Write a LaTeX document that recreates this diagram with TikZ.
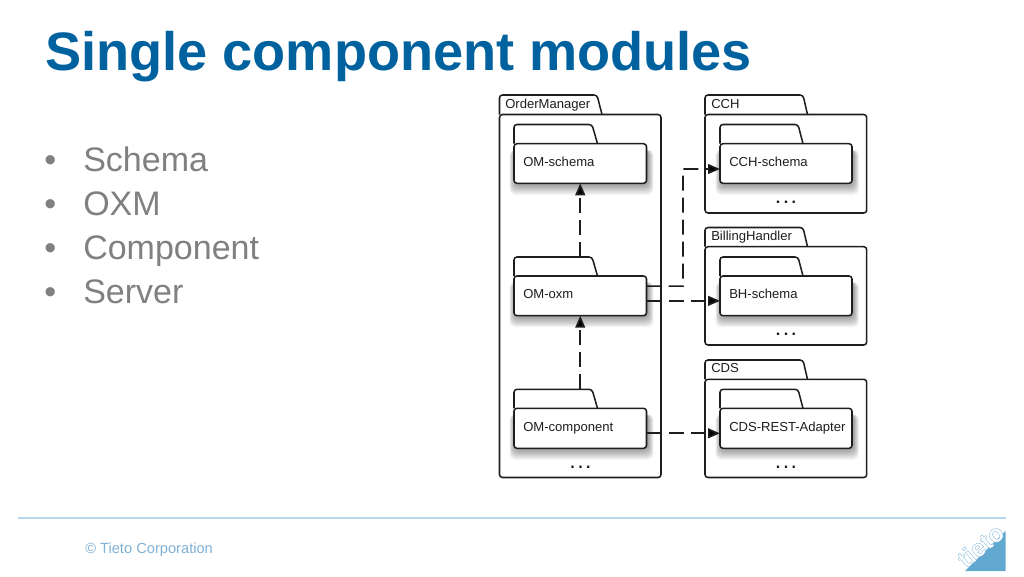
\documentclass[tikz,border=0pt]{standalone}
\usepackage{fontspec}
\setmainfont{Liberation Sans}
\usetikzlibrary{calc,arrows.meta}
\definecolor{titleblue}{HTML}{00619F}
\definecolor{bulletgray}{HTML}{808080}
\definecolor{rulecol}{HTML}{B5D8EC}
\definecolor{footcol}{HTML}{7FB2D6}
\definecolor{logoblue}{HTML}{62A9D1}
\definecolor{inkcol}{HTML}{1E1E1E}
\newcommand{\threedots}{.\kern2.6pt.\kern2.6pt.}
\tikzset{
  x=0.75pt,y=-0.75pt,
  titletext/.style={anchor=base west,inner sep=0,text=titleblue,font=\fontsize{40.6}{50}\selectfont\bfseries},
  bullettext/.style={anchor=base west,inner sep=0,text=bulletgray,font=\fontsize{25.5}{30}\selectfont},
  footertext/.style={anchor=base west,inner sep=0,text=footcol,font=\fontsize{11}{14}\selectfont},
  pkgline/.style={draw=inkcol,line width=1.15pt,line join=round},
  pkgbody/.style={pkgline,fill=white,rounded corners=2.2pt,inner sep=0,outer sep=0,anchor=north west},
  pkgtitle/.style={anchor=base west,inner sep=0,text=inkcol,font=\fontsize{9.8}{12}\selectfont},
  modlabel/.style={anchor=base west,inner sep=0,text=inkcol,font=\fontsize{9.8}{12}\selectfont},
  dotsrow/.style={anchor=base,inner sep=0,text=inkcol,font=\fontsize{12}{12}\selectfont\bfseries},
  dep/.style={draw=inkcol,line width=1.25pt,dash pattern=on 11.25pt off 5.25pt,-{Triangle[length=9pt,width=7.4pt,fill=black]}},
}
% #1 name, #2 x0, #3 x1, #4 tab top, #5 body top, #6 bottom, #7 tab right top, #8 tab right bottom
\newcommand{\pkgbox}[8]{%
  \draw[pkgline,fill=white,rounded corners=2.2pt] (#2,#5) -- (#2,#4) -- (#7,#4) -- (#8,#5);
  \node[pkgbody,minimum width={(#3-#2)*0.75pt},minimum height={(#6-#5)*0.75pt}] (#1) at (#2,#5) {};
  \coordinate (#1-top) at ({(#2+#3)/2},#4);
}
% the same with a soft shadow
\newcommand{\modbox}[8]{%
  \foreach \s in {10,9,...,1}{
    \fill[black,opacity=0.042,rounded corners=4pt] (#2+1-\s*0.55,#5+6) rectangle (#3+1+\s*0.6,#6+\s*1.15);
  }
  \pkgbox{#1}{#2}{#3}{#4}{#5}{#6}{#7}{#8}
}
\begin{document}
\begin{tikzpicture}
\useasboundingbox (0,0) rectangle (1024,576);
\fill[white] (0,0) rectangle (1024,576);
\node[titletext] (title) at (45,70) {Single component modules};
\foreach \nm/\yy/\txt in {a/171/Schema,b/215/OXM,c/259/Component,d/303/Server}{
  \node[bullettext] (dot\nm) at (44,\yy) {•};
  \node[bullettext] (item\nm) at (83,\yy) {\txt};
}
% packages
\pkgbox{om}{499.5}{661}{95}{114.5}{477.5}{597}{602}
\pkgbox{cch}{705}{866.7}{95}{114.5}{213}{803}{807.5}
\pkgbox{bh}{705}{866.7}{227.5}{246.7}{345}{803}{807.5}
\pkgbox{cds}{705}{866.7}{360}{379.3}{477.5}{803}{807.5}
\node[pkgtitle] (omt) at (505,108) {OrderManager};
\node[pkgtitle] (ccht) at (711,108) {CCH};
\node[pkgtitle] (bht) at (711,240) {BillingHandler};
\node[pkgtitle] (cdst) at (711,372.5) {CDS};
% modules
\modbox{oms}{514}{646.5}{124.5}{143.7}{183.3}{592}{597.5}
\modbox{omx}{514}{646.5}{257}{276}{315.7}{592}{597.5}
\modbox{omc}{514}{646.5}{389.3}{408.3}{448.3}{592}{597.5}
\modbox{cchs}{720}{852}{124.5}{143.7}{183.3}{798}{803}
\modbox{bhs}{720}{852}{257}{276}{315.7}{798}{803}
\modbox{cdsa}{720}{852}{389.3}{408.3}{448.3}{798}{803}
\node[modlabel] (l1) at (523,166) {OM-schema};
\node[modlabel] (l2) at (523,298.5) {OM-oxm};
\node[modlabel] (l3) at (523,431) {OM-component};
\node[modlabel] (l4) at (729,166) {CCH-schema};
\node[modlabel] (l5) at (729,298.5) {BH-schema};
\node[modlabel] (l6) at (729,431) {CDS-REST-Adapter};
\node[dotsrow] (d1) at (580.5,468) {\threedots};
\node[dotsrow] (d2) at (786,203) {\threedots};
\node[dotsrow] (d3) at (786,335.5) {\threedots};
\node[dotsrow] (d4) at (786,468) {\threedots};
% connectors
\draw[dep] (omx-top) -- (oms.south);
\draw[dep] (omc-top) -- (omx.south);
\draw[dep] ($(omx.east)+(0,-9.7)$) -| (683,169) -- ($(cchs.west)+(0,5.5)$);
\draw[dep] ($(omx.east)+(0,5)$) -- ($(bhs.west)+(0,5)$);
\draw[dep] ($(omc.east)+(0,5)$) -- ($(cdsa.west)+(0,5)$);
% footer
\draw[rulecol,line width=0.9pt] (18,518) -- (1006,518);
\node[footertext] (foot) at (85,553) {© Tieto Corporation};
\fill[logoblue] (1005.5,531) -- (1005.5,571) -- (965,571) -- cycle;
\node[inner sep=0,text=white,rotate=40,font=\fontsize{18.5}{20}\selectfont\bfseries] (logo) at (980.5,545.5) {\special{pdf:code q 2 Tr 0.18 w 0.38 0.66 0.82 RG}tieto\special{pdf:code Q}};
\end{tikzpicture}
\end{document}
